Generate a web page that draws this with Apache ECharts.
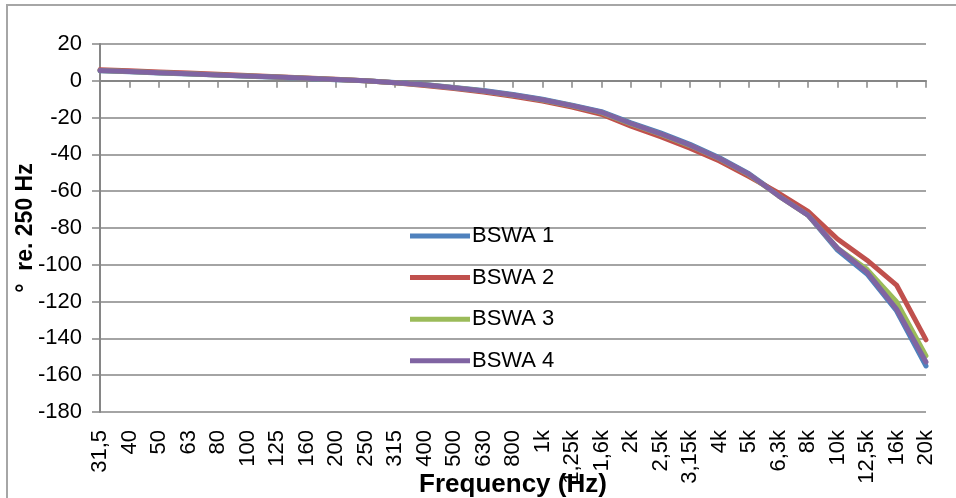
<!DOCTYPE html>
<html>
<head>
<meta charset="utf-8">
<script src="https://cdn.jsdelivr.net/npm/echarts@6/dist/echarts.min.js"></script>
<style>
html,body{margin:0;padding:0;background:#fff;}
#wrap{position:relative;width:956px;height:498px;overflow:hidden;background:#fff;}
#frame{position:absolute;left:6px;top:4px;width:1200px;height:800px;border:2px solid #a6a6a6;box-sizing:border-box;}
#chart{position:absolute;left:0;top:0;width:956px;height:498px;}
</style>
</head>
<body>
<div id="wrap"><div id="frame"></div><div id="chart"></div></div>
<script>
const categories = ['31,5','40','50','63','80','100','125','160','200','250','315','400','500','630','800','1k','1,25k','1,6k','2k','2,5k','3,15k','4k','5k','6,3k','8k','10k','12,5k','16k','20k'];
const yTicks = { min: -180, max: 20, interval: 20 };
const bswa1 = [5.4,4.9,4.3,3.7,3.1,2.5,1.9,1.3,0.6,0,-0.9,-2.0,-3.6,-5.3,-7.4,-10.0,-13.2,-16.8,-22.8,-28.3,-34.5,-41.8,-50.5,-62,-73,-92,-105,-125,-155];
const bswa2 = [6.0,5.4,4.8,4.2,3.6,2.9,2.2,1.5,0.8,0,-1.1,-2.5,-4.2,-6.1,-8.4,-11.0,-14.3,-18.2,-24.6,-30.4,-36.6,-43.6,-52,-61,-71,-86,-97.5,-111,-140.8];
const bswa3 = [5.6,5.0,4.4,3.8,3.2,2.6,2.0,1.4,0.7,0,-1.0,-2.2,-3.8,-5.6,-7.8,-10.4,-13.6,-17.3,-23.4,-29.0,-35.2,-42.4,-51,-62.5,-73,-91,-102.5,-120,-149.5];
const bswa4 = [5.6,5.0,4.4,3.8,3.2,2.6,2.0,1.4,0.7,0,-1.0,-2.2,-3.8,-5.6,-7.7,-10.3,-13.5,-17.1,-23.2,-28.8,-35.0,-42.2,-50.8,-62.5,-73,-91,-104,-124,-152.8];
const seriesNames = ['BSWA 1','BSWA 2','BSWA 3','BSWA 4'];
const seriesColors = ['#4F81BD','#C0504D','#9BBB59','#8064A2'];
const seriesData = [bswa1, bswa2, bswa3, bswa4];

const FONT = 'Liberation Sans';
const chart = echarts.init(document.getElementById('chart'), null, {renderer:'canvas'});
const axisGray = '#868686';
chart.setOption({
  animation: false,
  textStyle: { fontFamily: FONT },
  grid: { left: 100, right: 30, top: 44, bottom: 86, containLabel: false, outerBoundsMode: 'none' },
  legend: {
    orient: 'vertical', left: 405, top: 220,
    itemWidth: 60, itemHeight: 20, itemGap: 19.6,
    textStyle: { fontFamily: FONT, fontSize: 22, color: '#000', lineHeight: 20, padding: [0,0,0,-3] },
    data: seriesNames.map((n, i) => ({ name: n, icon: 'path://M0,0 L60,0 L60,5 L0,5 Z' }))
  },
  xAxis: {
    type: 'category', data: categories, boundaryGap: false,
    name: 'Frequency (Hz)', nameLocation: 'middle', nameGap: 60, nameMoveOverlap: false,
    nameTextStyle: { fontFamily: FONT, fontSize: 26, fontWeight: 'bold', color: '#000', verticalAlign: 'top' },
    axisLine: { lineStyle: { color: axisGray, width: 2 } },
    axisTick: { show: true, interval: 0, length: 7, lineStyle: { color: axisGray, width: 1.5 } },
    axisLabel: { interval: 0, rotate: 90, margin: 18, fontFamily: FONT, fontSize: 22, color: '#000' },
    splitLine: { show: false }
  },
  yAxis: {
    type: 'value', min: yTicks.min, max: yTicks.max, interval: yTicks.interval,
    name: '°  re. 250 Hz', nameLocation: 'middle', nameGap: 63, nameRotate: 90, nameMoveOverlap: false,
    nameTextStyle: { fontFamily: FONT, fontSize: 23, fontWeight: 'bold', color: '#000' },
    axisLine: { show: true, lineStyle: { color: axisGray, width: 2 } },
    axisTick: { show: true, length: 8, lineStyle: { color: axisGray, width: 1.5 } },
    axisLabel: { margin: 18, fontFamily: FONT, fontSize: 22, color: '#000' },
    splitLine: { show: true, lineStyle: { color: axisGray, width: 1.5 } }
  },
  series: seriesData.map((d, i) => ({
    name: seriesNames[i], type: 'line', data: d,
    symbol: 'none', smooth: false,
    itemStyle: { color: seriesColors[i] },
    lineStyle: { color: seriesColors[i], width: 5, cap: 'round', join: 'round' }
  }))
});
</script>
</body>
</html>
